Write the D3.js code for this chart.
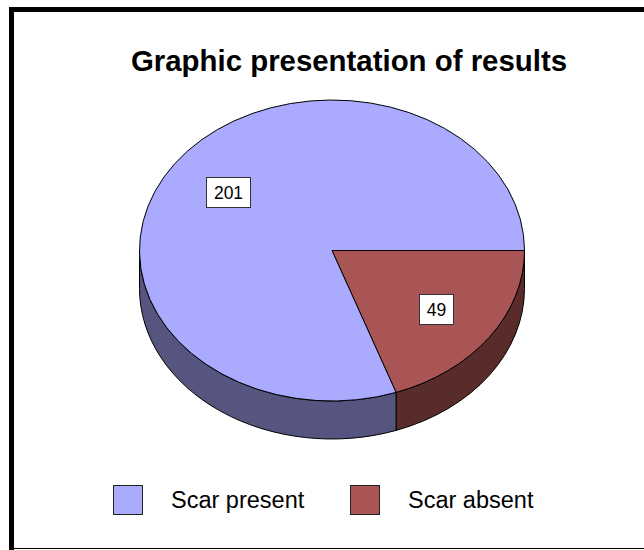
<!DOCTYPE html>
<html>
<head>
<meta charset="utf-8">
<style>
  html, body { margin: 0; padding: 0; background: #fff; }
  svg { display: block; }
  text { font-family: "Liberation Sans", Arial, sans-serif; fill: #000; }
  .top path { vector-effect: non-scaling-stroke; }
</style>
</head>
<body>
<svg class="chart"></svg>
<script src="https://d3js.org/d3.v7.min.js"></script>
<script>
  var categories = ["Scar absent", "Scar present"];
  var values = [49, 201];
  var topColors = ["#aa5555", "#aaaaff"];
  var sideColors = ["#592b2b", "#555580"];
  var legendOrder = ["Scar present", "Scar absent"];
  var title = "Graphic presentation of results";

  var width = 644, height = 550;
  var cx = 332, cy = 250.5, rx = 192.5, ry = 150.5, depth = 38;
  var labelRadius = 0.66;

  var svg = d3.select(".chart").attr("width", width).attr("height", height);

  // frame: heavy top and left, thin bottom, open at the right
  svg.append("rect").attr("x", 9).attr("y", 7).attr("width", width - 9).attr("height", 5).attr("fill", "#000");
  svg.append("rect").attr("x", 9).attr("y", 7).attr("width", 5).attr("height", height - 7).attr("fill", "#000");
  svg.append("rect").attr("x", 9).attr("y", 548).attr("width", width - 9).attr("height", 1).attr("fill", "#000");

  svg.append("text").attr("x", 349).attr("y", 71)
    .attr("text-anchor", "middle")
    .style("font-size", "29.4px").style("font-weight", "bold")
    .text(title);

  // starts at 3 o'clock and runs clockwise
  var pie = d3.pie().sort(null).startAngle(Math.PI / 2).endAngle(Math.PI / 2 + 2 * Math.PI);
  var arcs = pie(values);

  function px(a) { return cx + rx * Math.sin(a); }
  function py(a) { return cy - ry * Math.cos(a); }

  // side wall, only the front half of the ellipse can be seen
  function wall(d) {
    var a0 = Math.max(d.startAngle, Math.PI / 2);
    var a1 = Math.min(d.endAngle, 3 * Math.PI / 2);
    return "M" + px(a0) + "," + py(a0)
      + "A" + rx + "," + ry + " 0 0 1 " + px(a1) + "," + py(a1)
      + "L" + px(a1) + "," + (py(a1) + depth)
      + "A" + rx + "," + ry + " 0 0 0 " + px(a0) + "," + (py(a0) + depth)
      + "Z";
  }

  svg.append("g").selectAll("path").data(arcs).enter().append("path")
    .attr("d", wall)
    .attr("fill", function (d, i) { return sideColors[i]; })
    .attr("stroke", "#000").attr("stroke-width", 1);

  var arc = d3.arc().innerRadius(0).outerRadius(rx);
  svg.append("g").attr("class", "top")
    .attr("transform", "translate(" + cx + "," + cy + ") scale(1," + (ry / rx) + ")")
    .selectAll("path").data(arcs).enter().append("path")
    .attr("d", arc)
    .attr("fill", function (d, i) { return topColors[i]; })
    .attr("stroke", "#000").attr("stroke-width", 1);

  // value boxes, snapped to the pixel grid so the borders stay sharp
  var labelArc = d3.arc().innerRadius(rx * labelRadius).outerRadius(rx * labelRadius);
  var labels = svg.append("g").selectAll("g").data(arcs).enter().append("g")
    .attr("transform", function (d) {
      var c = labelArc.centroid(d);
      return "translate(" + (Math.round(cx + c[0]) + 0.5) + "," + (Math.round(cy + c[1] * 1.02 * ry / rx) + 0.5) + ")";
    });
  labels.append("rect")
    .attr("x", function (d) { return d.value > 99 ? -22 : -17; })
    .attr("y", -15)
    .attr("width", function (d) { return d.value > 99 ? 44 : 34; })
    .attr("height", 30)
    .attr("fill", "#fff").attr("stroke", "#333").attr("stroke-width", 1);
  labels.append("text")
    .attr("text-anchor", "middle").attr("y", 6.5)
    .style("font-size", "17.5px")
    .text(function (d) { return d.value; });

  // legend
  var legendX = d3.scaleOrdinal().domain(legendOrder).range([113, 350]);
  var legend = svg.append("g").selectAll("g").data(legendOrder).enter().append("g")
    .attr("transform", function (d) { return "translate(" + legendX(d) + ",485)"; });
  legend.append("rect")
    .attr("x", 0.5).attr("y", 0.5).attr("width", 29).attr("height", 29)
    .attr("fill", function (d) { return topColors[categories.indexOf(d)]; })
    .attr("stroke", "#222").attr("stroke-width", 1);
  legend.append("text")
    .attr("x", 58).attr("y", 23)
    .style("font-size", "23.5px")
    .text(function (d) { return d; });
</script>
</body>
</html>
